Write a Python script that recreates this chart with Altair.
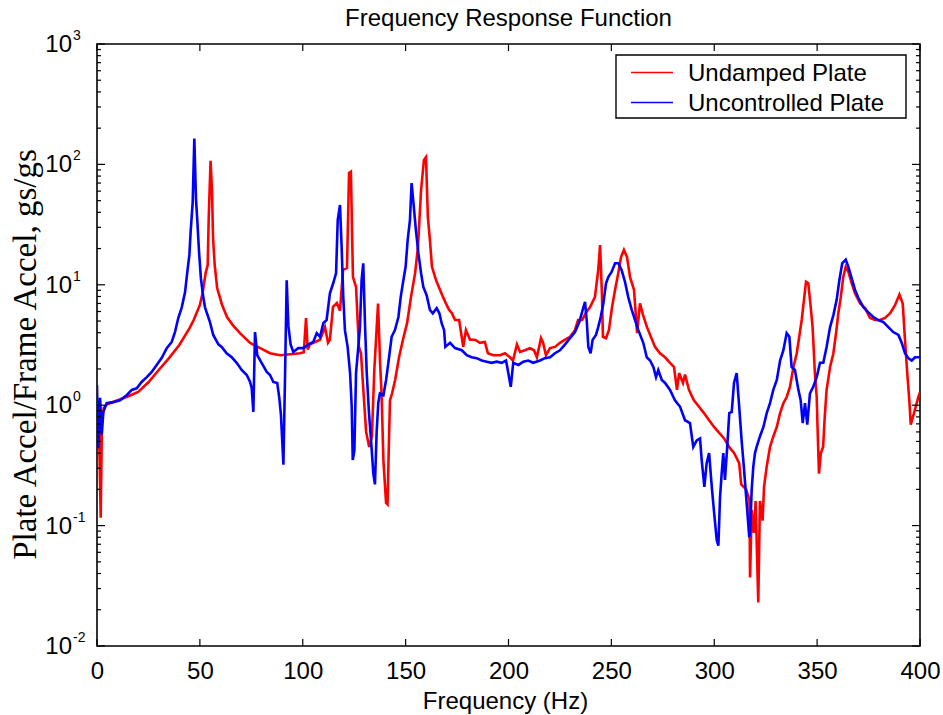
import altair as alt
import pandas as pd

# ---------------- data ----------------
undamped = [
    (0, 1.12), (0.8, 0.9), (1.8, 0.116), (2.4, 0.75), (3.3, 0.95), (5, 1.02), (10, 1.1),
    (15, 1.18), (20, 1.29), (25, 1.55), (30, 1.96), (35, 2.46), (40, 3.16), (45, 4.36),
    (47, 5.1), (50, 6.8), (51.3, 8.5), (52.8, 12.5), (53.8, 14.6), (54.3, 36), (55.2, 107),
    (55.9, 60), (56.4, 24.5), (57.2, 14.6), (58.4, 9.4), (60.8, 6.8), (63.2, 5.4), (66.1, 4.6),
    (69.5, 3.97), (74.4, 3.29), (79.3, 2.98), (84.1, 2.7), (89, 2.6), (93.8, 2.65), (98.7, 2.7),
    (100.5, 2.75), (101.6, 5.3), (102.4, 2.9), (103.5, 3.2), (108.4, 3.5), (110.8, 4.45),
    (112.3, 3.3), (113.2, 3.5), (114.7, 6.56), (116.6, 7.05), (118.1, 6.1), (119.6, 13.3),
    (121.5, 13.8), (122.5, 85), (123.4, 87), (124.4, 11.6), (125.9, 9.6), (127.3, 3.05),
    (128.3, 2.7), (129.5, 1.3), (130.8, 0.6), (132.3, 0.45), (133.6, 0.55), (134.8, 2.0),
    (136.6, 7.0), (137.6, 2.2), (138.3, 1.26), (139.2, 0.35), (140.5, 0.154), (141.2, 0.15),
    (141.9, 0.51), (142.4, 1.1), (143.4, 1.25), (144.9, 1.62), (146.8, 2.5), (148.7, 3.5),
    (150.7, 4.8), (152.6, 7.9), (154.6, 12.5), (156, 20.6), (157.5, 61), (158.9, 109),
    (159.9, 115), (160.8, 36.6), (161.8, 23.6), (162.8, 14.1), (164.8, 10.9), (166.7, 9.1),
    (168.2, 7.9), (169.6, 7.0), (171.1, 6.2), (172.5, 5.8), (174, 5.1), (176, 5.1), (178, 3.05),
    (179.3, 4.2), (181.3, 3.5), (183.7, 3.5), (186.1, 3.3), (188.5, 3.35), (190, 2.7),
    (192.5, 2.6), (195.9, 2.6), (198.3, 2.7), (200.7, 2.5), (202.2, 2.35), (204.1, 3.2),
    (205.6, 2.77), (208, 2.86), (210.4, 2.98), (212.4, 2.86), (213.8, 2.5), (215.8, 3.6),
    (216.8, 3.3), (218.2, 2.6), (220.2, 2.98), (222.6, 3.05), (225, 3.3), (227.5, 3.5),
    (229.9, 3.7), (232.3, 4.2), (233.8, 5.1), (235.8, 5.1), (237.7, 5.9), (239.6, 6.5),
    (242, 7.9), (243.6, 13.2), (244.5, 21.4), (245.4, 8.5), (245.9, 3.7), (247.4, 3.6),
    (248.8, 4.2), (250.3, 6.5), (251.8, 9.1), (253.2, 12.1), (254.7, 17), (256.1, 19.5),
    (257.6, 17), (259.1, 11.5), (261, 9.1), (262.5, 3.97), (263.9, 7.0), (265.4, 5.6),
    (267.3, 4.45), (269.2, 3.7), (271.2, 3.05), (273.6, 2.7), (276.1, 2.5), (278.5, 2.25),
    (280.4, 2.08), (281.9, 1.34), (282.9, 1.85), (284.8, 1.53), (285.8, 1.8), (287.7, 1.34),
    (290.1, 1.1), (292.6, 0.97), (295, 0.86), (297.5, 0.75), (299.9, 0.66), (302.4, 0.59),
    (304.8, 0.53), (307.2, 0.45), (309.7, 0.4), (312.1, 0.33), (313.1, 0.22), (315.5, 0.2),
    (317.1, 0.163), (317.4, 0.037), (318.2, 0.135), (319.3, 0.087), (320.1, 0.16),
    (321.4, 0.023), (322.2, 0.16), (323.5, 0.11), (324.2, 0.21), (325.5, 0.31), (327.1, 0.45),
    (328.7, 0.55), (330.4, 0.66), (332, 0.86), (333.6, 1.04), (335.2, 1.17), (336.8, 1.42),
    (338.5, 2.08), (340.1, 2.7), (341.3, 3.7), (342.5, 5.1), (343.6, 7.5), (344.6, 10.6),
    (345.7, 10.3), (346.9, 6.5), (347.8, 4.45), (348.9, 1.85), (349.8, 1.17), (350.2, 0.66),
    (350.9, 0.27), (351.8, 0.4), (352.9, 0.45), (353.7, 0.8), (354.6, 1.34), (356.3, 2.08),
    (357.9, 2.7), (359.2, 3.97), (360.3, 5.8), (361.5, 7.9), (362.7, 11.6), (363.9, 14.1),
    (365.2, 12.8), (366.8, 10.3), (368.4, 8.5), (370.9, 7.0), (373.3, 6.4), (375.7, 5.3),
    (378.2, 5.1), (380.6, 5.1), (383, 5.3), (385.5, 5.8), (387.9, 6.8), (390, 8.3),
    (391.6, 7.0), (392.7, 3.5), (393.8, 1.85), (394.8, 1.1), (395.5, 0.69), (397.1, 0.86),
    (399.2, 1.17), (400, 1.28),
]

uncontrolled = [
    (0, 1.47), (0.6, 0.44), (1.5, 1.15), (2.3, 0.57), (3.1, 0.88), (4.7, 1.04), (7.9, 1.06),
    (11.2, 1.1), (14.4, 1.21), (16.9, 1.34), (19.3, 1.38), (21.7, 1.56), (24.2, 1.71),
    (26.6, 1.89), (29, 2.16), (31.4, 2.46), (33.9, 2.98), (36.3, 3.35), (37.9, 4.05),
    (39.5, 5.3), (41.2, 6.5), (42.8, 8.7), (43.9, 12.8), (44.9, 17.7), (45.5, 27.4),
    (46.5, 48.3), (47.3, 164), (48.1, 52), (48.8, 33), (49.6, 18.7), (50.5, 11.3), (51.7, 7.8),
    (52.5, 6.5), (53.3, 5.9), (54.9, 4.9), (56.5, 3.83), (59, 3.2), (60.6, 3.05), (63, 2.7),
    (65.5, 2.5), (67.9, 2.25), (70.3, 1.96), (72.8, 1.78), (74.4, 1.56), (75.2, 1.38),
    (76, 0.88), (76.8, 4.05), (77.9, 2.6), (80, 2.25), (82.5, 1.89), (84.1, 1.78), (85.7, 1.56),
    (87.6, 1.53), (88.6, 1.15), (89.4, 0.83), (90.6, 0.32), (91.4, 1.78), (92.2, 10.9),
    (93, 4.6), (94.1, 3.2), (95.4, 2.77), (97.8, 2.98), (100.3, 2.98), (102.7, 3.2),
    (105.1, 3.35), (106.8, 3.97), (108.4, 3.7), (110, 4.8), (111.6, 5.1), (113.2, 8.5),
    (114.8, 10.3), (116.2, 12.5), (117, 34.5), (118.1, 46), (118.9, 20.6), (119.7, 7.9),
    (120.5, 4.2), (121.8, 3.05), (123, 1.85), (123.8, 0.97), (124.3, 0.35), (125.1, 0.42),
    (125.9, 1.85), (127, 3.05), (127.8, 4.45), (128.6, 10.9), (129.4, 15.1), (130.3, 4.45),
    (131.1, 1.85), (132.2, 0.86), (133.2, 0.51), (134.3, 0.27), (135.1, 0.22), (135.9, 0.59),
    (136.7, 1.04), (137.5, 1.25), (139.2, 1.21), (140.5, 1.62), (141.6, 2.25), (143.2, 3.7),
    (144.8, 4.2), (146.5, 5.4), (147.6, 7.9), (148.9, 10.9), (150, 14.1), (151, 23.6),
    (152.1, 34.5), (152.9, 70), (153.7, 50), (155, 28.4), (156.2, 18.3), (157.5, 12.5),
    (158.6, 9.6), (160.2, 8.2), (161.8, 6.2), (163.2, 5.8), (165.1, 6.4), (166.4, 5.8),
    (167.5, 4.8), (168.7, 4.2), (169.3, 3.05), (171.6, 3.3), (174, 2.98), (177.3, 2.86),
    (179.7, 2.6), (182.1, 2.5), (184.5, 2.46), (187, 2.35), (189.4, 2.3), (191.8, 2.25),
    (194.3, 2.3), (196.7, 2.25), (198.8, 2.35), (199.9, 1.85), (201.1, 1.42), (202.3, 2.25),
    (204.8, 2.16), (207.2, 2.3), (209.6, 2.35), (212, 2.25), (215.3, 2.35), (217.7, 2.46),
    (220.2, 2.5), (222.6, 2.7), (225, 2.86), (227.5, 3.2), (229.9, 3.6), (232.3, 4.05),
    (234.4, 4.9), (236.4, 6.5), (237.2, 7.2), (238, 5.1), (238.8, 3.05), (239.9, 2.7),
    (240.9, 3.5), (242.5, 3.83), (243.6, 4.45), (244.8, 5.4), (246.1, 7.0), (247.4, 10.3),
    (248.5, 11.6), (250.1, 12.8), (251.8, 15.1), (253.4, 15.1), (255, 13.2), (256.6, 10.6),
    (258.2, 7.9), (259.9, 6.2), (261.5, 5.1), (263.1, 4.2), (265.5, 3.3), (267.2, 2.5),
    (268.8, 2.35), (270.4, 2.08), (271.7, 1.71), (272.8, 1.96), (274.5, 1.62), (276.1, 1.53),
    (278.5, 1.34), (280.9, 1.1), (283.4, 0.97), (285.8, 0.75), (288.2, 0.71), (289.8, 0.45),
    (291.5, 0.51), (293.1, 0.53), (293.9, 0.35), (295.2, 0.21), (296.3, 0.33), (297.5, 0.4),
    (298.8, 0.21), (299.9, 0.13), (301.2, 0.076), (302, 0.068), (302.8, 0.17), (303.6, 0.27),
    (304.4, 0.4), (305.2, 0.24), (306.3, 0.45), (307.3, 0.86), (308.5, 0.88), (309.6, 1.53),
    (310.9, 1.85), (312, 1.04), (313.3, 0.51), (314.5, 0.29), (315.8, 0.15), (317, 0.08),
    (317.4, 0.087), (318.2, 0.2), (319, 0.31), (319.8, 0.4), (320.6, 0.45), (322.2, 0.55),
    (323.9, 0.66), (325.5, 0.86), (327.1, 1.04), (328.7, 1.34), (330.4, 1.62), (332, 2.35),
    (333.6, 2.86), (335.2, 3.97), (336.5, 3.7), (337.6, 2.08), (339.2, 1.96), (340.9, 1.34),
    (342, 1.1), (343, 0.71), (344.1, 1.04), (345.2, 0.69), (346.5, 1.25), (348.1, 1.42),
    (349.8, 1.71), (351.4, 2.25), (353, 2.25), (354.6, 3.05), (356.3, 4.45), (357.9, 5.6),
    (359.5, 7.5), (360.8, 10.9), (362.2, 15.1), (363.9, 16.2), (365.2, 14.1), (366.8, 11.3),
    (368.4, 9.1), (370, 7.8), (372.5, 6.5), (374.9, 5.9), (377.3, 5.4), (379.7, 5.1),
    (382.2, 4.9), (384.6, 4.45), (387, 4.05), (389.5, 3.83), (391.1, 3.3), (392.7, 2.7),
    (394.3, 2.46), (396, 2.35), (397.6, 2.5), (400, 2.5),
]

series_names = ["Undamped Plate", "Uncontrolled Plate"]
series_colors = ["#ff0000", "#0000ff"]
x_tick_values = [0, 50, 100, 150, 200, 250, 300, 350, 400]
y_decades = [1000, 100, 10, 1, 0.1, 0.01]
y_exponents = ["3", "2", "1", "0", "-1", "-2"]
y_minor = [m * d for d in [0.01, 0.1, 1, 10, 100] for m in range(2, 10)]

# ---------------- layout ----------------
W, H = 823, 602
FONT = "Liberation Sans"
SERIF = "Liberation Serif"

x_scale = alt.Scale(domain=[0, 400], nice=False, zero=False)
y_scale = alt.Scale(type="log", domain=[0.01, 1000], nice=False)

df_red = pd.DataFrame(undamped, columns=["hz", "mag"])
df_blue = pd.DataFrame(uncontrolled, columns=["hz", "mag"])

x_axis = alt.Axis(
    values=x_tick_values, format="d", labelFont=FONT, labelFontSize=24, labelColor="black",
    labelPadding=13, labelFlush=False, labelOverlap=False, ticks=False, domain=False, grid=False,
    title="Frequency (Hz)", titleFont=FONT, titleFontSize=24, titleFontWeight="normal",
    titleColor="black", titleBaseline="top", titleY=43, titleX=408,
)
y_axis = alt.Axis(
    labels=False, ticks=False, domain=False, grid=False,
    title="Plate Accel/Frame Accel, gs/gs", titleFont=SERIF, titleFontSize=33,
    titleFontWeight="normal", titleColor="black", titleAngle=270,
    titleBaseline="alphabetic", titleAlign="center", titleX=-62, titleY=310,
)

X = lambda f: alt.X(f, scale=x_scale, axis=x_axis)
Y = lambda f: alt.Y(f, scale=y_scale, axis=y_axis)

red_line = alt.Chart(df_red).mark_line(color=series_colors[0], strokeWidth=2.6, clip=True).encode(
    x=X("hz:Q"), y=Y("mag:Q"))
blue_line = alt.Chart(df_blue).mark_line(color=series_colors[1], strokeWidth=2.6, clip=True).encode(
    x=X("hz:Q"), y=Y("mag:Q"))

df_xt = pd.DataFrame({"hz": x_tick_values})
df_yd = pd.DataFrame({"mag": y_decades, "base": ["10"] * len(y_decades), "exp": y_exponents})
df_ym = pd.DataFrame({"mag": y_minor})

def xt(y0, y1):
    return alt.Chart(df_xt).mark_rule(color="black", strokeWidth=1.2).encode(
        x=X("hz:Q"), y=alt.value(y0), y2=alt.value(y1))

def yt(df, x0, x1):
    return alt.Chart(df).mark_rule(color="black", strokeWidth=1.2).encode(
        y=Y("mag:Q"), x=alt.value(x0), x2=alt.value(x1))

ticks = [
    xt(H, H - 7), xt(0, 7),
    yt(df_yd, 0, 8), yt(df_yd, W - 8, W),
    yt(df_ym, 0, 4), yt(df_ym, W - 4, W),
]

ylab_base = alt.Chart(df_yd).mark_text(
    align="right", baseline="alphabetic", font=FONT, fontSize=24, color="black", dy=8
).encode(y=Y("mag:Q"), x=alt.value(-25), text="base:N")
ylab_exp = alt.Chart(df_yd).mark_text(
    align="left", baseline="alphabetic", font=FONT, fontSize=14, color="black", dy=-4
).encode(y=Y("mag:Q"), x=alt.value(-24), text="exp:N")

# legend box (drawn as marks so its frame matches the reference)
df_leg = pd.DataFrame({"name": series_names, "color": series_colors})
legend_box = alt.Chart(df_leg.head(1)).mark_rect(
    fill="white", stroke="black", strokeWidth=1.4
).encode(x=alt.value(519), x2=alt.value(809), y=alt.value(11), y2=alt.value(74))
legend_layers = [legend_box]
row_y = [28.5, 58.5]
for i, (nm, col) in enumerate(zip(series_names, series_colors)):
    d = df_leg.iloc[[i]]
    legend_layers.append(
        alt.Chart(d).mark_rule(color=col, strokeWidth=1.6).encode(
            x=alt.value(534), x2=alt.value(576), y=alt.value(row_y[i]))
    )
    legend_layers.append(
        alt.Chart(d).mark_text(align="left", baseline="alphabetic", font=FONT, fontSize=24,
                               color="black", dy=8.5).encode(
            x=alt.value(591), y=alt.value(row_y[i]), text="name:N")
    )

chart = alt.layer(
    red_line, blue_line, *ticks, ylab_base, ylab_exp, *legend_layers
).properties(
    width=W, height=H,
    autosize=alt.AutoSizeParams(type="none"),
    padding={"left": 97, "top": 44, "right": 23, "bottom": 69},
    title=alt.TitleParams(
        text="Frequency Response Function", font=FONT, fontSize=24, fontWeight="normal",
        color="black", anchor="middle", offset=-2,
    ),
).configure(
    background="white",
    view=alt.ViewConfig(stroke="black", strokeWidth=1.6),
)

chart.save("out.html", embed_options={"renderer": "svg", "actions": False})
